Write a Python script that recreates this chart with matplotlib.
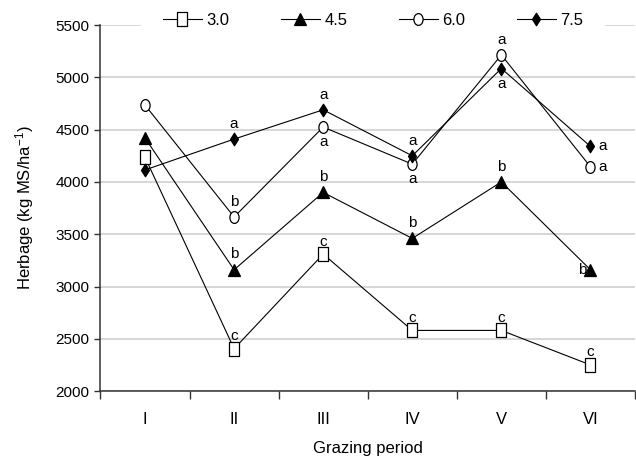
import matplotlib
matplotlib.use("Agg")
import matplotlib.pyplot as plt
from matplotlib.path import Path
from matplotlib.transforms import Affine2D

plt.rcParams['font.family'] = ['Liberation Sans Narrow', 'Liberation Sans', 'DejaVu Sans']
plt.rcParams['mathtext.default'] = 'regular'

periods = ['I', 'II', 'III', 'IV', 'V', 'VI']
series_names = ['3.0', '4.5', '6.0', '7.5']
s30 = [4235, 2405, 3310, 2580, 2580, 2250]
s45 = [4420, 3160, 3900, 3460, 4000, 3160]
s60 = [4735, 3665, 4525, 4170, 5215, 4145]
s75 = [4115, 4410, 4690, 4250, 5085, 4340]

letters30 = ['', 'c', 'c', 'c', 'c', 'c']
letters45 = ['', 'b', 'b', 'b', 'b', 'b']
letters60 = ['', 'b', 'a', 'a', 'a', 'a']
letters75 = ['', 'a', 'a', 'a', 'a', 'a']

# letter placement: 'up', 'down', 'right', 'left'
pos30 = ['', 'up', 'up', 'up', 'up', 'up']
pos45 = ['', 'up', 'up', 'up', 'up', 'left']
pos60 = ['', 'up', 'down', 'down', 'up', 'right']
pos75 = ['', 'up', 'up', 'up', 'down', 'right']

rect = Path([(-0.37, -0.5), (0.37, -0.5), (0.37, 0.5), (-0.37, 0.5), (-0.37, -0.5)],
            [Path.MOVETO, Path.LINETO, Path.LINETO, Path.LINETO, Path.CLOSEPOLY])
ell = Affine2D().scale(0.78, 1.0).transform_path(Path.unit_circle())
dia = Path([(0, -0.5), (0.32, 0), (0, 0.5), (-0.32, 0), (0, -0.5)],
           [Path.MOVETO, Path.LINETO, Path.LINETO, Path.LINETO, Path.CLOSEPOLY])

fig = plt.figure(figsize=(6.36, 4.65), dpi=100)
ax = fig.add_axes([0.158, 0.159, 0.8404, 0.787])

x = list(range(len(periods)))
styles = [
    (s30, rect, 'white', 10, 9, letters30, pos30),
    (s45, '^', 'black', 9, 11, letters45, pos45),
    (s60, ell, 'white', 8.5, 11, letters60, pos60),
    (s75, dia, 'black', 9, 11, letters75, pos75),
]
handles = []
for (vals, mk, fc, ms, off, lets, poss), name in zip(styles, series_names):
    h, = ax.plot(x, vals, color='black', lw=0.8, marker=mk, markersize=ms,
                 markerfacecolor=fc, markeredgecolor='black', markeredgewidth=0.9,
                 label=name, zorder=3)
    handles.append(h)
    for xi, v, l, p in zip(x, vals, lets, poss):
        if not l:
            continue
        if p == 'up':
            xy = (0, off)
            ha = 'center'
        elif p == 'down':
            xy = (0, -off)
            ha = 'center'
        elif p == 'right':
            xy = (6, 0)
            ha = 'left'
        else:
            xy = (-3, 0)
            ha = 'right'
        ax.annotate(l, (xi, v), xytext=xy, textcoords='offset points',
                    ha=ha, va='center', fontsize=11, zorder=7)

ax.set_xlim(-0.5, 5.5)
ax.set_ylim(2000, 5500)
ax.set_yticks(range(2000, 5501, 500))
ax.yaxis.grid(True, color='#cfcfcf', lw=1.2)
ax.set_axisbelow(True)
ax.set_xticks([i + 0.5 for i in range(-1, 6)])
ax.set_xticklabels([])
ax.set_xticks(x, minor=True)
ax.set_xticklabels(periods, minor=True, fontsize=12)
ax.tick_params(axis='x', which='minor', length=0, pad=15)
ax.tick_params(axis='x', which='major', length=6, width=1, direction='out', color='#333333')
ax.tick_params(axis='y', length=4, width=1, direction='out', color='#333333',
               labelsize=11, pad=4)
for s in ['top', 'right']:
    ax.spines[s].set_visible(False)
for s in ['left', 'bottom']:
    ax.spines[s].set_color('#333333')
    ax.spines[s].set_linewidth(1.1)

ax.set_xlabel('Grazing period', fontsize=12, labelpad=10)
ax.set_ylabel('Herbage (kg MS/ha$^{-1}$)', fontsize=12, labelpad=14)

leg = ax.legend(handles=handles, loc='center', bbox_to_anchor=(0.51, 1.0137),
                ncol=4, frameon=True, fontsize=12, handlelength=2.35,
                columnspacing=3.1, handletextpad=0.25, borderpad=1.3,
                borderaxespad=0)
leg.set_zorder(5)
leg.get_frame().set_edgecolor('none')
leg.get_frame().set_facecolor('white')
leg.get_frame().set_alpha(1)
leg.get_frame().set_boxstyle('square', pad=0.0)

fig.savefig('out.png', dpi=100)
